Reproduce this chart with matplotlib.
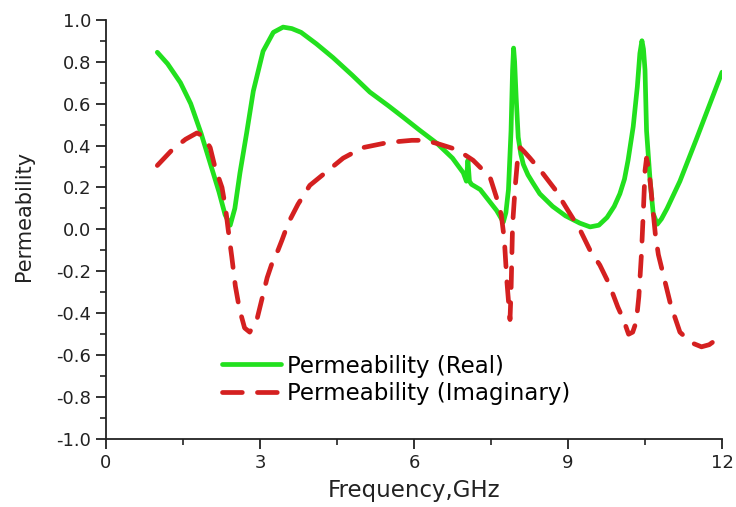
import matplotlib
matplotlib.use("Agg")
import matplotlib.pyplot as plt
from matplotlib.ticker import MultipleLocator

# Real part of permeability
freq_real = [1.0, 1.2, 1.45, 1.65, 1.85, 2.05, 2.2, 2.32, 2.42, 2.51, 2.61, 2.74, 2.87,
             3.06, 3.26, 3.45, 3.62, 3.8, 4.1, 4.42, 4.8, 5.14, 5.5, 5.79, 6.1, 6.45,
             6.75, 6.96, 7.02, 7.05, 7.08, 7.12, 7.29, 7.45, 7.61, 7.74, 7.79, 7.84,
             7.89, 7.92, 7.94, 7.96, 7.99, 8.03, 8.08, 8.13, 8.22, 8.32, 8.45, 8.7, 8.95,
             9.23, 9.43, 9.6, 9.76, 9.9, 10.01, 10.1, 10.17, 10.27, 10.35, 10.4, 10.44,
             10.47, 10.5, 10.53, 10.6, 10.66, 10.74, 10.82, 10.93, 11.18, 11.5, 11.75, 12.0]
mu_real = [0.845, 0.79, 0.70, 0.60, 0.46, 0.30, 0.18, 0.07, 0.02, 0.10, 0.27, 0.46, 0.66,
           0.85, 0.94, 0.965, 0.958, 0.94, 0.885, 0.82, 0.735, 0.655, 0.59, 0.535, 0.475, 0.41,
           0.34, 0.27, 0.23, 0.33, 0.23, 0.215, 0.19, 0.14, 0.09, 0.035, 0.08, 0.19,
           0.47, 0.76, 0.865, 0.80, 0.63, 0.44, 0.36, 0.31, 0.26, 0.22, 0.17, 0.11, 0.065,
           0.03, 0.012, 0.02, 0.057, 0.11, 0.17, 0.24, 0.33, 0.49, 0.68, 0.84, 0.90,
           0.86, 0.76, 0.47, 0.23, 0.075, 0.025, 0.05, 0.10, 0.23, 0.43, 0.59, 0.75]

# Imaginary part of permeability
freq_imag = [1.0, 1.29, 1.55, 1.77, 1.9, 2.03, 2.12, 2.26, 2.33, 2.38, 2.45, 2.52, 2.6,
             2.7, 2.8, 2.94, 3.04, 3.14, 3.25, 3.35, 3.43, 3.55, 3.74, 3.97, 4.27, 4.62,
             5.0, 5.5, 5.96, 6.2, 6.45, 6.84, 7.15, 7.48, 7.61, 7.7, 7.76, 7.81, 7.87,
             7.89, 7.92, 7.97, 8.02, 8.07, 8.15, 8.26, 8.5, 8.75, 9.0, 9.23, 9.43, 9.62,
             9.8, 9.97, 10.08, 10.18, 10.26, 10.33, 10.38, 10.43, 10.47, 10.5, 10.53,
             10.58, 10.64, 10.7, 10.76, 10.88, 11.0, 11.18, 11.4, 11.6, 11.75, 11.92]
mu_imag = [0.305, 0.38, 0.43, 0.46, 0.445, 0.39, 0.30, 0.20, 0.10, 0.0, -0.13, -0.27, -0.38,
           -0.47, -0.49, -0.43, -0.33, -0.23, -0.15, -0.10, -0.05, 0.03, 0.12, 0.21, 0.27, 0.34,
           0.39, 0.415, 0.425, 0.425, 0.41, 0.38, 0.33, 0.25, 0.15, 0.07, -0.05, -0.25, -0.43,
           -0.3, 0.02, 0.2, 0.34, 0.39, 0.37, 0.34, 0.27, 0.19, 0.09, 0.0, -0.1, -0.17,
           -0.26, -0.37, -0.43, -0.5, -0.49, -0.44, -0.32, -0.12, 0.1, 0.28, 0.34,
           0.28, 0.13, -0.02, -0.12, -0.24, -0.36, -0.49, -0.54, -0.56, -0.55, -0.52]

x_ticks = [0, 3, 6, 9, 12]
y_ticks = [-1.0, -0.8, -0.6, -0.4, -0.2, 0.0, 0.2, 0.4, 0.6, 0.8, 1.0]

plt.rcParams['font.family'] = ['DejaVu Sans']

fig = plt.figure(figsize=(7.36, 5.07), dpi=100)
ax = fig.add_axes([0.144, 0.134, 0.837, 0.827])

ax.plot(freq_real, mu_real, color='#22e01e', lw=3.4, solid_joinstyle='round',
        solid_capstyle='round', label='Permeability (Real)')
ax.plot(freq_imag, mu_imag, color='#d42020', lw=3.4, linestyle=(0, (4.2, 3.2)),
        dash_capstyle='round', label='Permeability (Imaginary)')

ax.set_xlim(0, 12)
ax.set_ylim(-1.0, 1.0)
ax.set_xticks(x_ticks)
ax.set_xticklabels([str(t) for t in x_ticks])
ax.set_yticks(y_ticks)
ax.set_yticklabels([f"{t:.1f}" for t in y_ticks])
ax.xaxis.set_minor_locator(MultipleLocator(1.5))
ax.yaxis.set_minor_locator(MultipleLocator(0.1))

for s in ['top', 'right']:
    ax.spines[s].set_visible(False)
for s in ['left', 'bottom']:
    ax.spines[s].set_linewidth(1.3)
    ax.spines[s].set_color('#222222')

ax.tick_params(which='major', direction='out', length=7, width=1.3, colors='#222222',
               labelsize=13, labelcolor='#222222')
ax.tick_params(which='minor', direction='out', length=4, width=1.2, colors='#222222')
ax.tick_params(axis='x', which='major', pad=3.5)

ax.set_xlabel('Frequency,GHz', fontsize=16.5, color='#222222', labelpad=5)
ax.set_ylabel('Permeability', fontsize=15, color='#222222')
ax.yaxis.set_label_coords(-0.117, 0.532)

leg = ax.legend(loc='lower left', bbox_to_anchor=(0.188, 0.081), frameon=False,
                fontsize=16.5, handlelength=2.6, handletextpad=0.26, labelspacing=0.2,
                borderpad=0.0, borderaxespad=0.0)

fig.savefig('out.png', dpi=100)
